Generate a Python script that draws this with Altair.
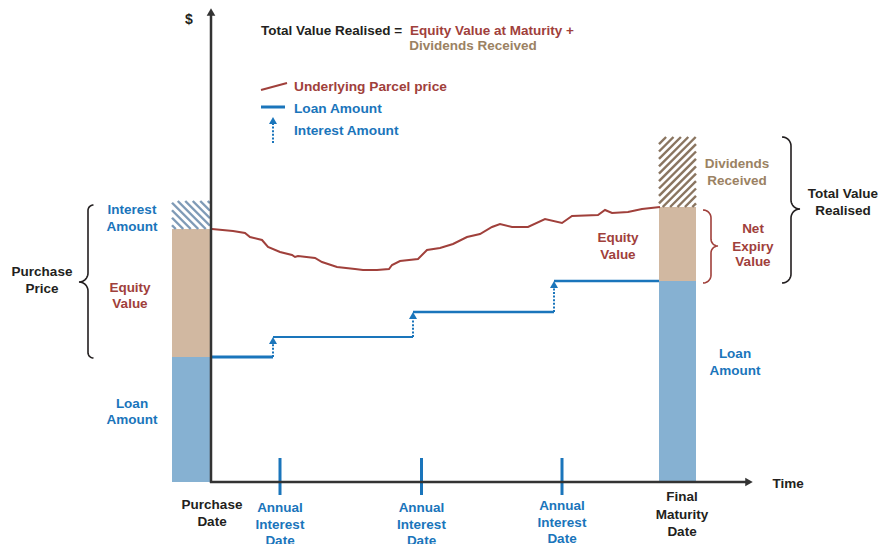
import altair as alt
import pandas as pd
import numpy as np

# ---------------- data (chart units: t = time, v = $ value) ----------------
price_t = [0, 1, 22, 34, 39, 51, 57, 69, 81, 84, 87, 104, 111, 126, 144, 152, 166, 178,
           181, 189, 207, 216, 229, 242, 256, 269, 281, 289, 301, 317, 334, 351, 361,
           387, 394, 401, 417, 431, 449]
price_v = [253, 253, 251, 249, 245, 242, 235, 230, 227, 225, 226, 224, 220, 215, 213, 212,
           212, 213, 217, 221, 223, 232, 234, 238, 245, 248, 255, 258, 255, 255, 263, 259,
           266, 267, 272, 269, 270, 273, 275]

loan_start = [0, 62, 202, 343]
loan_end = [62, 202, 343, 448]
loan_level = [125, 145, 170, 201]

interest_dates = [62, 202, 343]
interest_from = [125, 145, 170]
interest_to = [145, 170, 201]

tick_dates = [69, 210.5, 351]

# stacked bars: purchase (left) and maturity (right)
bar_part = ["Loan", "Equity", "Loan", "Equity"]
bar_t0 = [-39, -39, 448, 448]
bar_t1 = [-1, -1, 485, 485]
bar_lo = [0, 125, 0, 201]
bar_hi = [125, 253, 201, 275]
interest_box = (-39, -1, 253, 281)
dividend_box = (448, 485, 275, 345)

# ---------------- styling ----------------
BLACK = "#231f20"
RED = "#a0403b"
BLUE = "#1a75bb"
TAN_TXT = "#9b8263"
BAR_BLUE = "#86b1d2"
BAR_TAN = "#d1b8a1"
HATCH_BLUE = "#7f9bb7"
HATCH_BROWN = "#8a7560"
AXIS = "#333333"
FONT = "Liberation Sans"

XD = [-203, 673]
YD = [-62, 474]


def X(f="t"):
    return alt.X(f, type="quantitative", axis=None,
                 scale=alt.Scale(domain=XD, nice=False, zero=False))


def Y(f="v"):
    return alt.Y(f, type="quantitative", axis=None,
                 scale=alt.Scale(domain=YD, nice=False, zero=False))


# ---------------- derived tables ----------------
bars = pd.DataFrame({"part": bar_part, "t0": bar_t0, "t1": bar_t1,
                     "lo": bar_lo, "hi": bar_hi})
bars["col"] = bars["part"].map({"Loan": BAR_BLUE, "Equity": BAR_TAN})


def hatch(box, slope, step, col):
    t0, t1, v0, v1 = box
    rows = []
    if slope > 0:
        cs = np.arange(v0 - t1 + step / 2, v1 - t0, step)
    else:
        cs = np.arange(v0 + t0 + step / 2, v1 + t1, step)
    for c in cs:
        if slope > 0:
            a, b = max(t0, v0 - c), min(t1, v1 - c)
            if b > a:
                rows.append((a, a + c, b, b + c, col))
        else:
            a, b = max(t0, c - v1), min(t1, c - v0)
            if b > a:
                rows.append((a, c - a, b, c - b, col))
    return rows


hatch_df = pd.DataFrame(hatch(interest_box, -1, 7.5, HATCH_BLUE)
                        + hatch(dividend_box, 1, 7.4, HATCH_BROWN),
                        columns=["t", "v", "t2", "v2", "col"])


def brace(name, col, x_end, x_col, x_tip, y_top, y_tip, y_bot, n=12):
    r = abs(x_end - x_col)
    r2 = abs(x_tip - x_col)
    s = np.sign(x_end - x_col)
    s2 = np.sign(x_col - x_tip)
    pts = []
    cy = y_top - r
    for a in np.linspace(0, np.pi / 2, n):
        pts.append((x_end - s * r * np.sin(a), cy + r * np.cos(a)))
    cy2 = y_tip + r2
    for a in np.linspace(0, np.pi / 2, n):
        pts.append((x_tip + s2 * r2 * np.cos(a), cy2 - r2 * np.sin(a)))
    cy3 = y_tip - r2
    for a in np.linspace(np.pi / 2, np.pi, n):
        pts.append((x_tip - s2 * r2 * np.cos(a), cy3 + r2 * np.sin(a)))
    cy4 = y_bot + r
    for a in np.linspace(np.pi / 2, 0, n):
        pts.append((x_end - s * r * np.sin(a), cy4 - r * np.cos(a)))
    return [(name, col, i, p[0], p[1]) for i, p in enumerate(pts)]


braces = pd.DataFrame(
    brace("purchase", BLACK, -117.5, -123, -132, 277, 200, 124)
    + brace("expiry", RED, 492, 500, 507, 272, 236, 199)
    + brace("total", BLACK, 571, 580, 589, 345, 273, 199),
    columns=["b", "col", "i", "t", "v"])

price = pd.DataFrame({"t": price_t, "v": price_v, "i": range(len(price_t))})

loan = pd.DataFrame({"t": loan_start, "t2": loan_end, "v": loan_level,
                     "w": [3, 2.2, 2.6, 2.6]})

arrows = pd.DataFrame({"t": interest_dates + [62], "v": interest_from + [339],
                       "tip": interest_to + [365]})
arrows["v2"] = arrows["tip"] - 7
arrows["hv"] = arrows["tip"] - 3.5

ticks = pd.DataFrame({"t": tick_dates, "v": [24] * 3, "v2": [-13] * 3})

axes = pd.DataFrame({"t": [0, -1], "v": [-1, 0], "t2": [0, 535], "v2": [467, 0]})
axis_heads = pd.DataFrame({"t": [0, 538], "v": [470, 0],
                           "shape": ["triangle-up", "triangle-right"]})

legend_lines = pd.DataFrame({"t": [50, 50], "v": [392, 375], "t2": [76, 74],
                             "v2": [399, 375], "col": [RED, BLUE], "w": [2, 3]})

labels = [
    ("$", -22, 462, BLACK, "center", 14),
    ("Total Value Realised =", 50, 451, BLACK, "left", 13.5),
    ("Equity Value at Maturity +", 199, 451, RED, "left", 13.5),
    ("Dividends Received", 262, 436, TAN_TXT, "center", 13.5),
    ("Underlying Parcel price", 83, 395, RED, "left", 13.7),
    ("Loan Amount", 83, 373, BLUE, "left", 13.7),
    ("Interest Amount", 83, 351, BLUE, "left", 13.7),
    ("Interest", -79, 272, BLUE, "center", 13.5),
    ("Amount", -79, 255, BLUE, "center", 13.5),
    ("Equity", -81, 194, RED, "center", 13.5),
    ("Value", -81, 178, RED, "center", 13.5),
    ("Loan", -79, 78, BLUE, "center", 13.5),
    ("Amount", -79, 62, BLUE, "center", 13.5),
    ("Purchase", -169, 210, BLACK, "center", 13.5),
    ("Price", -169, 193, BLACK, "center", 13.5),
    ("Purchase", 1, -23, BLACK, "center", 13.5),
    ("Date", 1, -40, BLACK, "center", 13.5),
    ("Final", 471, -15, BLACK, "center", 13.5),
    ("Maturity", 471, -33, BLACK, "center", 13.5),
    ("Date", 471, -50, BLACK, "center", 13.5),
    ("Time", 577, -2, BLACK, "center", 13.5),
    ("Dividends", 526, 318, TAN_TXT, "center", 13.5),
    ("Received", 526, 301, TAN_TXT, "center", 13.5),
    ("Total Value", 632, 288, BLACK, "center", 13.5),
    ("Realised", 632, 271, BLACK, "center", 13.5),
    ("Net", 542, 253, RED, "center", 13.5),
    ("Expiry", 542, 235.5, RED, "center", 13.5),
    ("Value", 542, 220, RED, "center", 13.5),
    ("Equity", 407, 244, RED, "center", 13.5),
    ("Value", 407, 227, RED, "center", 13.5),
    ("Loan", 524, 128, BLUE, "center", 13.5),
    ("Amount", 524, 111, BLUE, "center", 13.5),
]
for t, top in zip(tick_dates, [-26, -26, -24]):
    for k, w in enumerate(["Annual", "Interest", "Date"]):
        labels.append((w, t, top - 16.5 * k, BLUE, "center", 13.5))
lab = pd.DataFrame(labels, columns=["text", "t", "v", "col", "align", "size"])

# ---------------- layers ----------------
bar_layer = alt.Chart(bars).mark_rect().encode(
    x=X("t0"), x2="t1", y=Y("lo"), y2="hi", color=alt.Color("col:N", scale=None))

hatch_layer = alt.Chart(hatch_df).mark_rule(strokeWidth=2.4).encode(
    x=X("t"), y=Y("v"), x2="t2", y2="v2", color=alt.Color("col:N", scale=None))

axis_layer = alt.Chart(axes).mark_rule(color=AXIS, strokeWidth=2.5).encode(
    x=X("t"), y=Y("v"), x2="t2", y2="v2")

head_layer = alt.Chart(axis_heads).mark_point(filled=True, opacity=1, size=75,
                                              color=AXIS, strokeWidth=0).encode(
    x=X("t"), y=Y("v"), shape=alt.Shape("shape:N", scale=None))

tick_layer = alt.Chart(ticks).mark_rule(color=BLUE, strokeWidth=3).encode(
    x=X("t"), y=Y("v"), y2="v2")

price_layer = alt.Chart(price).mark_line(color=RED, strokeWidth=2).encode(
    x=X("t"), y=Y("v"), order="i:Q")

loan_layer = alt.Chart(loan).mark_rule(color=BLUE).encode(
    x=X("t"), x2="t2", y=Y("v"), strokeWidth=alt.StrokeWidth("w:Q", scale=None))

arrow_layer = alt.Chart(arrows).mark_rule(color=BLUE, strokeWidth=2,
                                          strokeDash=[2, 1.6]).encode(
    x=X("t"), y=Y("v"), y2="v2")

arrowhead_layer = alt.Chart(arrows).mark_point(shape="triangle-up", filled=True,
                                               opacity=1, size=64, color=BLUE,
                                               strokeWidth=0).encode(
    x=X("t"), y=Y("hv"))

legend_layer = alt.Chart(legend_lines).mark_rule().encode(
    x=X("t"), y=Y("v"), x2="t2", y2="v2", color=alt.Color("col:N", scale=None),
    strokeWidth=alt.StrokeWidth("w:Q", scale=None))

brace_layer = alt.Chart(braces).mark_line(strokeWidth=1.6).encode(
    x=X("t"), y=Y("v"), detail="b:N", order="i:Q",
    color=alt.Color("col:N", scale=None))

left_text = alt.Chart(lab[lab["align"] == "left"]).mark_text(
    font=FONT, fontWeight="bold", baseline="middle", align="left").encode(
    x=X("t"), y=Y("v"), text="text:N", color=alt.Color("col:N", scale=None),
    size=alt.Size("size:Q", scale=None))
center_text = alt.Chart(lab[lab["align"] == "center"]).mark_text(
    font=FONT, fontWeight="bold", baseline="middle", align="center").encode(
    x=X("t"), y=Y("v"), text="text:N", color=alt.Color("col:N", scale=None),
    size=alt.Size("size:Q", scale=None))

chart = alt.layer(bar_layer, hatch_layer, tick_layer, price_layer, loan_layer,
                  arrow_layer, arrowhead_layer, axis_layer, head_layer,
                  legend_layer, brace_layer, left_text, center_text).properties(
    width=876, height=536, padding=0,
    autosize=alt.AutoSizeParams(type="none"),
    background="white",
).configure_view(stroke=None)

chart.save("out.html", embed_options={"renderer": "svg", "actions": False})
